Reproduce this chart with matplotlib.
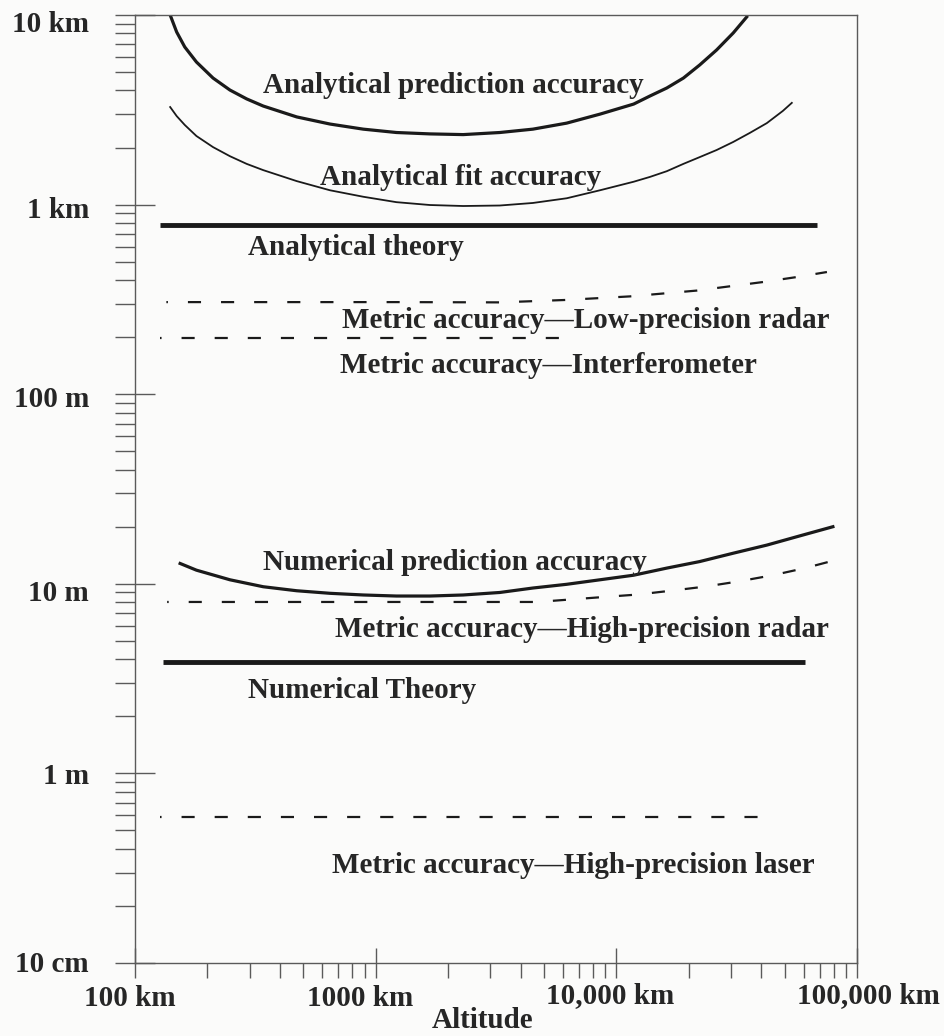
import numpy as np
import matplotlib.pyplot as plt
from matplotlib.ticker import LogLocator, NullFormatter
from matplotlib.transforms import offset_copy

# altitude in km, position accuracy in metres
A_PRED_X = [140, 149, 161, 180, 211, 248, 291, 341, 470, 646, 888, 1220, 1680, 2310,
            3280, 4500, 6220, 8550, 11800, 13800, 16200, 19000, 22200, 26100, 30600, 34800]
A_PRED_Y = [10000, 8130, 6780, 5650, 4650, 4020, 3610, 3310, 2900, 2660, 2500, 2400, 2360, 2340,
            2400, 2500, 2690, 3000, 3390, 3740, 4120, 4650, 5450, 6540, 8040, 9760]

A_FIT_X = [140, 149, 161, 180, 211, 248, 291, 341, 470, 646, 888, 1220, 1680, 2310, 3280,
           4500, 6220, 8550, 11800, 13800, 16200, 19000, 22200, 26100, 30600, 35900, 42200,
           49200, 53600]
A_FIT_Y = [3270, 2930, 2630, 2300, 2010, 1800, 1640, 1520, 1330, 1190, 1100, 1030, 995, 983, 989,
           1020, 1080, 1190, 1320, 1400, 1500, 1640, 1780, 1940, 2140, 2390, 2690,
           3120, 3440]

A_THEORY_X = [127, 68100]
A_THEORY_Y = [780, 780]

LP_RADAR_X = [135, 1260, 3280, 6120, 11400, 21600, 41000, 56300, 75000]
LP_RADAR_Y = [306, 306, 305, 314, 328, 352, 391, 415, 441]

INTERF_X = [127, 6100]
INTERF_Y = [198, 198]

N_PRED_X = [154, 180, 248, 341, 470, 646, 888, 1220, 1680, 2310, 3280, 4500, 6220, 8550,
            11800, 16200, 22200, 30600, 42200, 57900, 79400]
N_PRED_Y = [12.8, 11.8, 10.5, 9.65, 9.19, 8.91, 8.73, 8.62, 8.62, 8.73, 9.0, 9.5, 9.94, 10.5,
            11.1, 12.1, 13.1, 14.5, 16.0, 17.9, 20.0]

HP_RADAR_X = [136, 1260, 4680, 6480, 8880, 12300, 17200, 23600, 32300, 44700, 60800, 82500]
HP_RADAR_Y = [8.02, 8.02, 8.02, 8.27, 8.52, 8.78, 9.22, 9.68, 10.3, 11.1, 12.1, 13.4]

N_THEORY_X = [131, 60800]
N_THEORY_Y = [3.87, 3.87]

LASER_X = [127, 46500]
LASER_Y = [0.59, 0.59]

X_TICKS = [100, 1000, 10000, 100000]
X_TICK_LABELS = ["100 km", "1000 km", "10,000 km", "100,000 km"]
Y_TICKS = [0.1, 1, 10, 100, 1000, 10000]
Y_TICK_LABELS = ["10 cm", "1 m", "10 m", "100 m", "1 km", "10 km"]

NOTES = ["Analytical prediction accuracy",
         "Analytical fit accuracy",
         "Analytical theory",
         "Metric accuracy\u2014Low-precision radar",
         "Metric accuracy\u2014Interferometer",
         "Numerical prediction accuracy",
         "Metric accuracy\u2014High-precision radar",
         "Numerical Theory",
         "Metric accuracy\u2014High-precision laser"]
NOTE_X = [341, 587, 295, 724, 710, 341, 678, 295, 659]
NOTE_Y = [3860, 1270, 542, 224, 129, 11.8, 5.24, 2.50, 0.298]

# layout (pixels)
X_LABEL_SHIFT = [-5, -16, -6, 11]
X_LABEL_BASE = [43, 43, 40, 40]
Y_LABEL_DROP = [9, 11, 17, 13, 13, 17]

plt.rcParams['font.family'] = ['Liberation Serif', 'DejaVu Serif']
plt.rcParams['font.weight'] = 'bold'

INK = '#1a1a1a'
TEXT = '#262626'
AXIS = '#5a5a5a'
BG = '#fbfbfa'
FS = 21

fig = plt.figure(figsize=(9.45, 10.36), dpi=100, facecolor=BG)
ax = fig.add_axes([135 / 945, 73 / 1036, 722 / 945, 948 / 1036])
ax.set_facecolor(BG)
ax.set_xscale('log')
ax.set_yscale('log')
ax.set_xlim(100, 100000)
ax.set_ylim(0.1, 10000)

dash = (5.2, (5.9, 9.0))
ax.plot(A_PRED_X, A_PRED_Y, color=INK, lw=2.3, solid_joinstyle='round')
ax.plot(A_FIT_X, A_FIT_Y, color=INK, lw=1.3, solid_joinstyle='round')
ax.plot(A_THEORY_X, A_THEORY_Y, color=INK, lw=3.5, solid_capstyle='butt')
ax.plot(LP_RADAR_X, LP_RADAR_Y, color=INK, lw=1.6, ls=dash)
ax.plot(INTERF_X, INTERF_Y, color=INK, lw=1.6, ls=dash)
ax.plot(N_PRED_X, N_PRED_Y, color=INK, lw=2.3, solid_joinstyle='round')
ax.plot(HP_RADAR_X, HP_RADAR_Y, color=INK, lw=1.6, ls=dash)
ax.plot(N_THEORY_X, N_THEORY_Y, color=INK, lw=3.5, solid_capstyle='butt')
ax.plot(LASER_X, LASER_Y, color=INK, lw=1.6, ls=dash)

for txt, x, y in zip(NOTES, NOTE_X, NOTE_Y):
    ax.text(x, y, txt, fontsize=FS, color=TEXT, ha='left', va='baseline')

# axes frame and ticks
for sp in ax.spines.values():
    sp.set_color(AXIS)
    sp.set_linewidth(1.0)

for axis in (ax.xaxis, ax.yaxis):
    axis.set_major_locator(LogLocator(base=10, numticks=12))
    axis.set_minor_locator(LogLocator(base=10, subs=np.arange(2, 10), numticks=12))
    axis.set_major_formatter(NullFormatter())
    axis.set_minor_formatter(NullFormatter())

ax.tick_params(axis='x', which='major', direction='inout', length=21.6, width=1.0, color=AXIS)
ax.tick_params(axis='x', which='minor', direction='out', length=10.8, width=1.0, color=AXIS)
ax.tick_params(axis='y', which='major', direction='inout', length=28.8, width=1.0, color=AXIS)
ax.tick_params(axis='y', which='minor', direction='out', length=14.4, width=1.0, color=AXIS)

xtrans = ax.get_xaxis_transform()
for val, txt, dx, base in zip(X_TICKS, X_TICK_LABELS, X_LABEL_SHIFT, X_LABEL_BASE):
    tr = offset_copy(xtrans, fig=fig, x=dx, y=-base, units='dots')
    ax.text(val, 0, txt, transform=tr, fontsize=FS, color=TEXT, ha='center', va='baseline')

ytrans = ax.get_yaxis_transform()
for val, txt, drop in zip(Y_TICKS, Y_TICK_LABELS, Y_LABEL_DROP):
    tr = offset_copy(ytrans, fig=fig, x=-46, y=-drop, units='dots')
    ax.text(0, val, txt, transform=tr, fontsize=FS, color=TEXT, ha='right', va='baseline')

alt = offset_copy(ax.transAxes, fig=fig, x=0, y=-65, units='dots')
ax.text((483 - 135) / 722, 0, "Altitude", transform=alt, fontsize=FS, color=TEXT,
        ha='center', va='baseline')

fig.savefig("out.png", dpi=100, facecolor=BG)
